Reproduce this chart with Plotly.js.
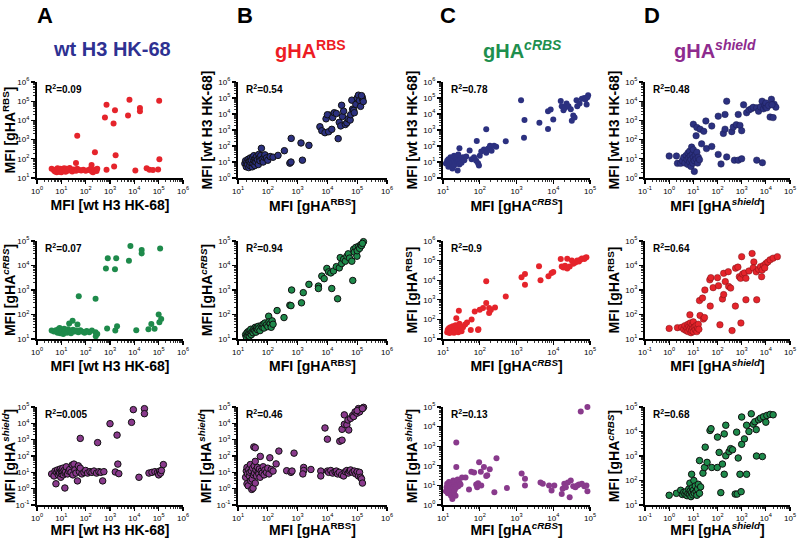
<!DOCTYPE html>
<html><head><meta charset="utf-8">
<script src="https://cdn.plot.ly/plotly-3.0.1.min.js"></script>
<style>body{margin:0;background:#fff}#chart{width:800px;height:538px}</style>
</head><body><div id="chart"></div>
<script>
// ---------- Column / axis labels ----------
const columnLetters = ['A','B','C','D'];
const columnTitles = ['wt H3 HK-68','gHA<sup>RBS</sup>','gHA<sup><i>cRBS</i></sup>','gHA<sup><i>shield</i></sup>'];
const axisLabels = {
  wt: 'MFI [wt H3 HK-68]',
  rbs: 'MFI [gHA<sup>RBS</sup>]',
  crbs: 'MFI [gHA<sup><i>cRBS</i></sup>]',
  shield: 'MFI [gHA<sup><i>shield</i></sup>]'
};
const r2Values = ['0.09','0.54','0.78','0.48','0.07','0.94','0.9','0.64','0.005','0.46','0.13','0.68'];

// ---------- Row 1 ----------
const a1x=[4,5,5.5,6,6.5,7,7.5,8,8.5,9,10,10,11,12,13,14,15,16,18,20,22,25,28,30,35,40,45,55,65,80,100,130,160,180,200,240,280,300,
  40,45,175,240,620,720,720,1400,1480,1600,1700,5500,6300,11000,17000,17000,32000,42000,58000,95000,105000,107000];
const a1y=[30,25,22,28,20,32,24,27,21,30,25,20,28,23,32,26,21,30,24,27,33,25,22,28,27,24,30,26,25,27,24,26,30,22,20,27,23,30,
  60,1600,47,220,14000,65000,27,7000,40,34000,155,18000,120000,25,44000,30000,32,27,26,28,107000,95];

const b1x=[17,18,19,20,21,22,23,24,25,26,27,28,30,31,32,34,35,37,38,40,42,45,48,50,52,55,58,61,65,70,75,80,90,100,120,150,220,360,
  550,600,610,1300,1450,2400,
  5600,6500,8300,11000,14000,12000,9000,10000,15000,17000,20000,23000,25000,28000,30000,32000,35000,40000,45000,50000,58000,60000,66000,70000,76000,80000,90000,100000,110000,120000,130000,145000,150000,160000,140000];
const b1y=[8,12,5,10,7,15,4.5,11,6,18,9,13,5,20,8,25,12,6,16,10,22,14,7,30,18,12,25,72,15,10,20,28,18,13,22,20,26,51,
  8.5,10,300,155,13,110,
  1600,900,680,780,1100,8500,5000,9000,6000,12000,10700,290,3000,1800,35000,7000,15000,2200,2800,5000,4200,9000,73000,20000,17000,12000,40000,100000,150000,70000,30000,117000,90000,60000,140000];

const c1x=[12,13,14,14,15,16,16,17,18,18,19,20,20,21,22,23,24,25,25,26,27,28,28,30,32,35,38,43,53,60,70,80,83,90,95,100,110,130,150,150,170,190,210,245,280,510,
  1330,1600,1650,4200,7200,7200,8500,10000,16000,17000,19000,21000,23000,26000,30000,32000,35000,38000,43000,45000,52000,60000,70000,75000,81000,89000,85000];
const c1y=[8,12,5,15,10,7,20,12,4,9,15,25,6,11,8,18,14,3,10,30,12,73,7,15,9,20,13,22,52,15,20,12,205,8.5,6,25,45,60,1100,38,70,105,50,105,90,195,
  72000,330,4200,2800,1150,15000,19000,4600,66000,31000,17000,25000,45000,30000,20000,3800,8000,6000,73000,30000,45000,90000,100000,80000,39000,148000,110000];

const d1x=[1,2,2.2,3,3.5,4,4.5,5,5.5,6,6,6.5,7,7,7.5,8,8,8.5,9,9.5,10,10,11,11,12,13,14,15,16,18,
  10,13,14,19,22,27,33,35,58,58,107,107,140,175,205,205,240,240,390,450,500,600,720,720,850,1000,1000,1200,1600,2000,2500,3000,4200,4200,5000,6000,7200,7000,8000,9000,10000,10000,11000,13000,15000,17000,20000,22000,26000,18000];
const d1y=[14,14,5.8,5.8,8,12,6,15,9,20,5,11,7,25,14,9,4,41,17,6,12,30,2.2,8,15,10,22,6,12,9,
  630,160,430,350,60,270,930,34,44,510,1660,17,5.4,210,350,2040,10000,12.6,260,450,8.5,600,2040,8.5,550,10,290,6500,2500,3500,4000,4800,8.5,4500,3000,5000,6.3,10000,4000,6000,5000,8000,4500,6000,1500,12600,1400,7000,4900,6500];

// ---------- Row 2 ----------
const a2x=[4,5,6,7,7.5,8,8.5,9,10,10,11,12,13,14,15,17,19,21,23,25,29,30,35,40,46,50,60,70,90,110,140,180,255,260,300,
  52,255,680,760,810,1600,1650,1800,1950,6000,6900,12000,20000,20000,38000,50000,68000,100000,107000,115000,127000];
const a2y=[22,20,23,18,25,21,28,17,24,19,22,16,26,20,23,18,25,43,21,17,56,24,20,22,39,19,23,20,18,21,19,22,19,13,16,
  550,440,7600,27,20000,7000,22,20000,33,15500,63000,23,43000,31000,25,41,26,100,48,49000,65];

const b2x=[18,19,20,21,22,23,24,25,26,27,28,30,32,34,36,38,40,42,45,48,50,55,60,65,70,75,80,90,100,107,110,120,130,140,150,205,350,
  550,600,630,1350,1550,2400,
  5000,5000,6500,7800,9600,11000,13000,14000,16000,20000,22000,25000,27000,30000,35000,40000,45000,50000,55000,66000,71000,76000,80000,90000,98000,100000,110000,120000,130000,140000,162000,150000];
const b2y=[15,12,18,14,20,16,13,22,17,25,15,20,18,26,22,30,19,28,24,33,27,22,35,30,40,28,45,38,32,85,50,42,30,55,40,145,75,
  240,230,1000,300,780,1700,
  1450,1150,3700,2900,7600,5500,5000,1150,6000,9000,440,8000,21000,12000,18000,15000,24000,30000,20000,15000,2450,46000,35000,55000,24000,40000,60000,50000,70000,65000,94000,80000];

const c2x=[13,13.5,14,14.5,15,15.5,16,16.5,17,18,18.5,19,20,20,21,22,22,23,24,25,26,27,28,29,30,32,35,40,45,57,60,73,90,92,100,123,150,150,180,180,200,260,
  510,1370,1700,1700,4100,4500,7400,9000,10000,16000,17000,19000,21000,24000,24000,28000,32000,35000,40000,45000,50000,55000,60000,70000,80000,75000];
const c2y=[22,30,25,35,20,28,40,24,32,22,45,27,35,21,30,50,25,115,38,28,22,280,60,32,45,25,40,55,70,29,100,250,29,31,310,380,690,8900,380,210,300,400,
  1480,14000,21000,5900,52000,10000,16000,23000,26000,120000,50000,45000,55000,125000,40000,50000,100000,70000,80000,100000,90000,110000,130000,120000,150000,140000];

const d2x=[1,2.2,3.3,4,4.5,5,5.5,6,6,6.5,7,7.2,7.5,8,8,8.5,9,9.5,10,10,11,12,13,14,15,16,17,
  19,26,29,18,24,30,48,50,53,66,100,110,126,160,180,180,210,280,290,350,400,560,550,700,930,1000,800,900,1100,1300,1500,1500,2000,2700,3200,3000,4200,4000,5000,6700,6000,8000,10000,12000,15000,20000,30000,7000,9000];
const d2y=[27,29,30,25,35,22,28,40,20,32,25,97,45,18,30,22,38,27,20,50,30,24,35,20,28,40,25,
  91,65,75,370,470,1000,2600,220,3200,1250,3200,1500,38,430,4800,650,2200,5600,1400,1200,22,7800,220,8600,45,23000,3500,3000,4500,5000,400,3000,6000,31000,14000,8000,400,5500,7000,3500,9000,10000,12000,14000,17000,20000,23000,6500,8000];

// ---------- Row 3 ----------
const a3x=[4,5,5.5,6,6.5,7,7.5,8,8.5,9,9.5,10,10,11,11.5,12,13,14,14,15,16,18,20,22,25,28,30,33,36,40,46,50,55,60,70,85,100,120,150,180,220,280,350,420,500,560,
  60,310,1000,1650,1950,2100,2300,7700,9100,15500,26000,26000,40000,53000,70000,90000,100000,110000,120000,130000,156000];
const a3y=[8,6,12,2,10,14,7,11,9,16,5,12,8,10,18,7,13,1.1,9,11,22,8,12,15,10,28,7,32,14,9,3,25,11,18,8,10,13,9,11,10,12,9,11,10,3,11,
  1200,660,9500,10.5,1900,32,8.3,11500,69000,5,79000,39000,9,10,11,10,7,12,9,13,30];

const b3x=[18,19,20,20,21,22,23,24,25,26,27,28,29,30,31,32,33,34,35,36,38,38,38,40,42,45,48,50,52,55,56,60,65,70,75,80,90,100,110,117,130,150,190,235,430,600,650,760,
  1600,1600,1500,2800,6000,6000,10000,11000,13000,15000,18000,20000,22000,25000,30000,35000,40000,45000,50000,55000,60000,70000,80000,90000,100000,110000,120000,130000,140000,150000,
  8300,10000,26000,31000,31000,37000,37000,45000,49000,52000,60000,70000,76000,85000,98000,110000,127000,140000,163000,120000,100000,150000];
const b3y=[5,12,2,20,8,1.5,15,6,10,30,3,12,0.9,3.9,18,1.07,7,360,25,9,320,2.2,47,14,6,20,11,8,16,5,95,12,9,22,7,14,10,18,8,78,15,12,33,200,12.6,10,12,150,
  20,13,8,15,12,6,12,10,13,9,11,12,8,10,7,6,11,13,9,12,14,10,12,8,11,6,10,5,4,2.2,
  5200,1070,800,930,4300,33000,8700,8000,16000,3900,20000,30000,26000,50000,42000,80000,68000,75000,95000,50000,60000,80000];

const c3x=[12,12.5,13,13.5,14,14.5,15,15.5,16,16.5,17,17.5,18,18,19,19,20,20,21,21,22,22,23,23,23,24,25,26,28,30,33,41,51,59,70,96,80,85,90,107,110,130,160,150,187,250,285,550,
  1380,1700,1700,4500,5200,7700,9000,10700,17000,18000,20000,22000,25000,28000,30000,35000,40000,45000,50000,56000,60000,70000,80000,85000,85000];
const c3y=[5,8,12,4,7,15,10,5,9,3,13,6,2,11,8,18,4,14,6,10,3,16,87,1550,8,12,20,9,14,11,25,25,6.2,50,45,150,11,8,13,50,10,87,33,30,66,4.5,245,7.3,
  41,22,10,14,12,10,5.5,10,3.7,6.7,12,8,14,2.5,18,9,8,10,11,59000,12,9,10,100000,5];

const d3x=[1,2,3,3.5,4,4.5,5,5.5,6,6.5,7,7.2,7.5,8,8.5,8.5,9,9.5,10,10.5,11,12,13,14,15,16,18,20,
  18,25,29,31,37,49,54,58,98,100,117,137,160,190,190,220,220,300,350,420,540,620,650,720,850,950,1000,1000,1300,1600,1600,2000,2500,3000,4100,7200,3500,5000,6000,8000,11000,15000,20000,10000,4000];
const d3y=[25,30,40,27,33,28,35,24,30,45,27,78,38,22,180,32,50,26,40,100,30,60,35,25,45,70,30,55,
  650,200,340,2300,550,11000,13000,340,340,5900,1400,32,470,8000,180,18000,1020,1500,2000,1800,28,9400,28,830,180,35,39000,3000,5000,180,18000,10000,53000,20000,1000,950,25000,30000,35000,40000,45000,50000,48000,24000,12000];

// ---------- Styling ----------
const RED='#e5242b', NAVY='#2c3180', GREEN='#1e8a4b', PURPLE='#893a8c';
const TITLE_COLORS=['#2e3192','#ed1c24','#1e8f4e','#8e2b8e'];
const FONT='Liberation Sans, Arial, sans-serif';

const colDomains=[[0.04625,0.22875],[0.2975,0.48375],[0.55375,0.7375],[0.80625,0.9875]];
const rowDomains=[[0.6691,0.8476],[0.3699,0.5520],[0.0613,0.2435]];

const panels=[
  {x:a1x,y:a1y,c:RED,   lw:0,  lc:'#000', xr:[0,6], yr:[1,6], xl:'wt', yl:'rbs'},
  {x:b1x,y:b1y,c:NAVY,  lw:1,  lc:'#111', xr:[1,6], yr:[0,6], xl:'rbs', yl:'wt'},
  {x:c1x,y:c1y,c:NAVY,  lw:0,  lc:'#000', xr:[1,5], yr:[0,6], xl:'crbs', yl:'wt'},
  {x:d1x,y:d1y,c:NAVY,  lw:0.5,lc:'#1a1d50', xr:[-1,5], yr:[0,5], xl:'shield', yl:'wt'},
  {x:a2x,y:a2y,c:GREEN, lw:0,  lc:'#000', xr:[0,6], yr:[1,5], xl:'wt', yl:'crbs'},
  {x:b2x,y:b2y,c:GREEN, lw:1,  lc:'#111', xr:[1,6], yr:[1,5], xl:'rbs', yl:'crbs'},
  {x:c2x,y:c2y,c:RED,   lw:0,  lc:'#000', xr:[1,5], yr:[1,6], xl:'crbs', yl:'rbs'},
  {x:d2x,y:d2y,c:RED,   lw:0.5,lc:'#7a1015', xr:[-1,5], yr:[1,5], xl:'shield', yl:'rbs'},
  {x:a3x,y:a3y,c:PURPLE,lw:1,  lc:'#111', xr:[0,6], yr:[-1,5], xl:'wt', yl:'shield'},
  {x:b3x,y:b3y,c:PURPLE,lw:1,  lc:'#111', xr:[1,6], yr:[-1,5], xl:'rbs', yl:'shield'},
  {x:c3x,y:c3y,c:PURPLE,lw:0,  lc:'#000', xr:[1,5], yr:[0,5], xl:'crbs', yl:'shield'},
  {x:d3x,y:d3y,c:GREEN, lw:1,  lc:'#111', xr:[-1,5], yr:[1,5], xl:'shield', yl:'crbs'}
];

function decadeTicks(r){
  const vals=[],txt=[];
  for(let e=r[0];e<=r[1];e++){vals.push(Math.pow(10,e));txt.push('10<sup>'+e+'</sup>');}
  return {vals,txt};
}

const traces=[];
const layout={
  width:800,height:538,margin:{l:0,r:0,t:0,b:0},
  paper_bgcolor:'#fff',plot_bgcolor:'#fff',showlegend:false,
  font:{family:FONT,color:'#000'},
  annotations:[]
};

panels.forEach((p,i)=>{
  const k=i+1, row=Math.floor(i/4), col=i%4;
  const xa='xaxis'+(k===1?'':k), ya='yaxis'+(k===1?'':k);
  traces.push({
    type:'scatter',mode:'markers',x:p.x,y:p.y,xaxis:'x'+k,yaxis:'y'+k,
    marker:{color:p.c,size:p.lw>0?6.5:6,line:{width:p.lw,color:p.lc}},
    hoverinfo:'x+y',cliponaxis:false
  });
  const xt=decadeTicks(p.xr), yt=decadeTicks(p.yr);
  const common={type:'log',showgrid:false,zeroline:false,showline:true,linecolor:'#000',linewidth:2,
    ticks:'outside',ticklen:4,tickwidth:1.2,tickcolor:'#000',tickmode:'array',
    tickfont:{size:8,family:FONT,color:'#000'},automargin:false,fixedrange:true,
    minor:{ticks:'outside',ticklen:2,tickwidth:0.8,tickcolor:'#000',dtick:'D1'}};
  layout[xa]=Object.assign({},common,{domain:colDomains[col],anchor:'y'+k,range:p.xr,
    tickvals:xt.vals,ticktext:xt.txt,
    title:{text:'<b>'+axisLabels[p.xl]+'</b>',font:{size:14,family:FONT,color:'#000'},standoff:6}});
  layout[ya]=Object.assign({},common,{domain:rowDomains[row],anchor:'x'+k,range:p.yr,
    tickvals:yt.vals,ticktext:yt.txt,
    title:{text:'<b>'+axisLabels[p.yl]+'</b>',font:{size:14,family:FONT,color:'#000'},standoff:2}});
  layout.annotations.push({xref:'x'+k+' domain',yref:'y'+k+' domain',x:0.04,y:1.01,xanchor:'left',yanchor:'top',
    text:'<b>R<sup>2</sup>=' + r2Values[i] + '</b>',showarrow:false,font:{size:10,family:FONT,color:'#000'}});
});

const letterX=[45,245,448,652], titleX=[112,310,522,715];
columnLetters.forEach((L,c)=>{
  layout.annotations.push({xref:'paper',yref:'paper',x:letterX[c]/800,y:1-15/538,xanchor:'center',yanchor:'middle',
    text:'<b>'+L+'</b>',showarrow:false,font:{size:22,family:FONT,color:'#000'}});
  layout.annotations.push({xref:'paper',yref:'paper',x:titleX[c]/800,y:1-49/538,xanchor:'center',yanchor:'middle',
    text:'<b>'+columnTitles[c]+'</b>',showarrow:false,font:{size:20,family:FONT,color:TITLE_COLORS[c]}});
});

Plotly.newPlot('chart',traces,layout,{displayModeBar:false,staticPlot:true});
</script></body></html>
